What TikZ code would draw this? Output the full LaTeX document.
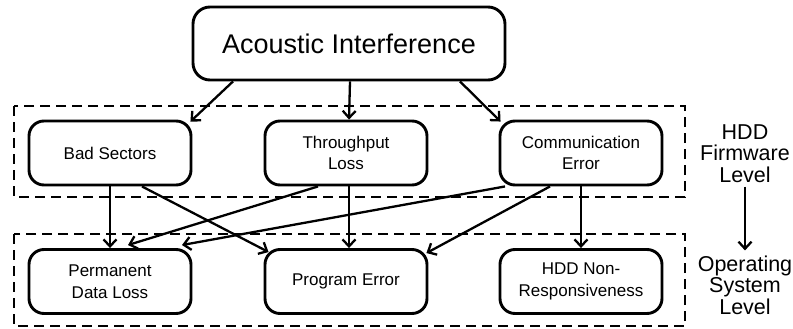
\documentclass[tikz,border=0pt]{standalone}
\usepackage{fontspec}
\setmainfont{Liberation Sans}
\usetikzlibrary{arrows.meta}

\tikzset{
  cause/.style={draw, line width=2.9pt, rounded corners=15pt, align=center,
    minimum width=162pt, minimum height=64pt, inner sep=0pt,
    font=\fontsize{17}{21.5}\selectfont},
  rootbox/.style={cause, minimum width=312pt, minimum height=73pt,
    rounded corners=17pt, font=\fontsize{27}{30}\selectfont},
  levelbox/.style={draw, line width=2.8pt, dash pattern=on 10pt off 6pt},
  levellabel/.style={align=center, inner sep=0pt,
    font=\fontsize{21.5}{21.5}\selectfont},
  link/.style={line width=2.3pt, -{Straight Barb[length=7pt,width=13pt,line width=2.3pt]}}
}

\begin{document}
\begin{tikzpicture}[x=1pt, y=-1pt]
  \useasboundingbox (0,0) rectangle (793,329);

  % level frames
  \draw[levelbox] (14,106) rectangle (685,197);
  \draw[levelbox] (14,234) rectangle (685,326);

  % nodes
  \node[rootbox] (ai) at (349,43.5) {Acoustic Interference};

  \node[cause] (bs) at (110,153) {Bad Sectors};
  \node[cause] (tl) at (346,153) {Throughput\\Loss};
  \node[cause] (ce) at (581,153) {Communication\\Error};

  \node[cause] (pd) at (110,281.5) {Permanent\\Data Loss};
  \node[cause] (pe) at (346,281.5) {Program Error};
  \node[cause] (hn) at (581,281.5) {HDD Non-\\Responsiveness};

  \node[levellabel] (fw) at (745,153.5) {HDD\\Firmware\\Level};
  \node[levellabel] (os) at (745,285) {Operating\\System\\Level};

  % top-level effects
  \draw[link] ([xshift=-116pt]ai.south) -- ([xshift=-2pt,yshift=-2pt]bs.north east);
  \draw[link] ([xshift=1pt]ai.south) -- ([xshift=3pt]tl.north);
  \draw[link] ([xshift=111pt]ai.south) -- ([xshift=2pt,yshift=-2pt]ce.north west);

  % firmware-level to OS-level effects
  \draw[link] (bs.south) -- (pd.north);
  \draw[link] ([xshift=32pt]bs.south) -- ([xshift=5pt,yshift=-4pt]pe.north west);
  \draw[link] ([xshift=-28pt]tl.south) -- ([xshift=18pt,yshift=3pt]pd.north);
  \draw[link] ([xshift=3pt]tl.south) -- ([xshift=3pt]pe.north);
  \draw[link] ([xshift=-76pt]ce.south) -- ([xshift=72pt,yshift=3pt]pd.north);
  \draw[link] ([xshift=-31pt]ce.south) -- ([xshift=-2pt,yshift=-5pt]pe.north east);
  \draw[link] (ce.south) -- (hn.north);

  % level transition
  \draw[link] ([yshift=-4pt]fw.south) -- ([yshift=5pt]os.north);
\end{tikzpicture}
\end{document}
